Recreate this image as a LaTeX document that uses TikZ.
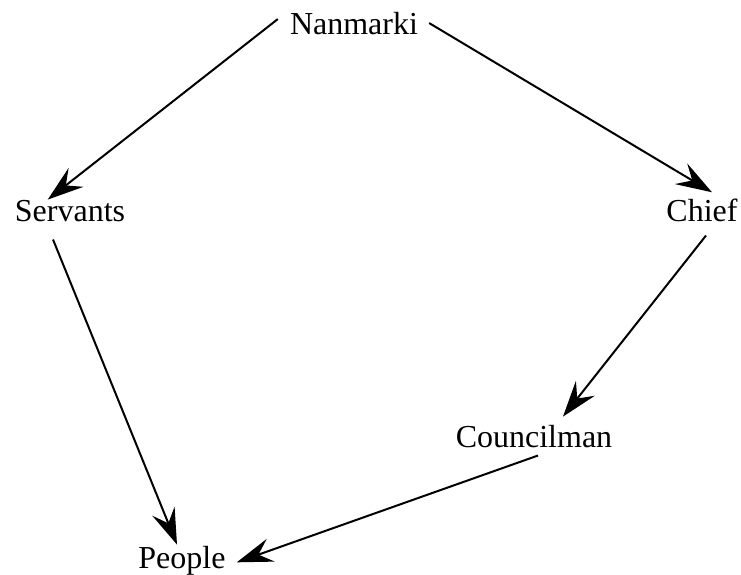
\documentclass[tikz,border=0pt]{standalone}
\usepackage{fontspec}
\setmainfont{Liberation Serif}
\usetikzlibrary{arrows.meta}
\begin{document}
\begin{tikzpicture}[x=1pt,y=-1pt,
  role/.style={inner sep=0pt,anchor=base,font=\fontsize{32}{38}\selectfont},
  link/.style={line width=2pt,-{Stealth[length=36pt,width=24pt,inset=13pt]}}]
\useasboundingbox (0,0) rectangle (741,574);
% ranks of the hierarchy
\node[role] (nan)  at (354,34)  {Nanmarki};
\node[role] (serv) at (70,221)  {Servants};
\node[role] (chief) at (702,221) {Chief};
\node[role] (coun) at (534,447) {Councilman};
\node[role] (peop) at (182,568) {People};
% lines of authority
\draw[link] ([shift={(-12,-4)}]nan.west) -- ([shift={(33,0)}]serv.north west);
\draw[link] ([shift={(11,0)}]nan.east) -- ([shift={(10,-6)}]chief.north);
\draw[link] ([shift={(4,14)}]chief.south) -- ([shift={(29,-8)}]coun.north);
\draw[link] ([shift={(-17,18)}]serv.south) -- ([shift={(-5,-1)}]peop.north);
\draw[link] ([shift={(4,8)}]coun.south) -- ([shift={(11,2)}]peop.east);
\end{tikzpicture}
\end{document}
